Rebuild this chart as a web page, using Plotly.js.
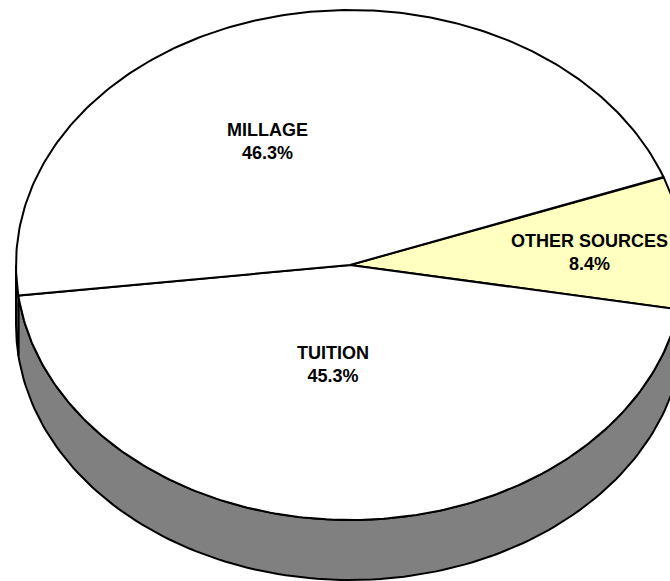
<!DOCTYPE html>
<html>
<head>
<meta charset="utf-8">
<script src="https://cdn.plot.ly/plotly-3.0.1.min.js"></script>
<style>html,body{margin:0;padding:0;background:#fff;}#chart{width:670px;height:581px;}</style>
</head>
<body>
<div id="chart"></div>
<script>
// ---- data ----
const labels = ['OTHER SOURCES', 'TUITION', 'MILLAGE'];
const values = [8.4, 45.3, 46.3];
const colors = ['#FFFFC0', '#FFFFFF', '#FFFFFF'];
const sideColors = ['#808060', '#808080', '#808080'];

// ---- layout geometry (pixel-like axis units) ----
const cx = 350, cy = 265, rx = 334, ry = 255, depth = 60;
const startDeg = -20.2; // screen angle, clockwise positive
const labelPos = [[589, 252], [333, 364], [267, 141]];

const total = values.reduce((a, b) => a + b, 0);
const traces = [];
const rad = d => d * Math.PI / 180;
function pt(tDeg, dy) { return [cx + rx * Math.cos(rad(tDeg)), cy + ry * Math.sin(rad(tDeg)) + (dy || 0)]; }

let cum = startDeg;
const slices = values.map((v, i) => {
  const a0 = cum, a1 = cum + v / total * 360;
  cum = a1;
  return {a0, a1, i};
});

// side walls (front half: angles in [0,180] mod 360)
slices.forEach(s => {
  for (const off of [0, 360, -360]) {
    const lo = Math.max(s.a0, 0 + off), hi = Math.min(s.a1, 180 + off);
    if (hi > lo) {
      const xs = [], ys = [];
      const n = 120;
      for (let k = 0; k <= n; k++) { const t = lo + (hi - lo) * k / n; const p = pt(t, 0); xs.push(p[0]); ys.push(p[1]); }
      for (let k = n; k >= 0; k--) { const t = lo + (hi - lo) * k / n; const p = pt(t, depth); xs.push(p[0]); ys.push(p[1]); }
      xs.push(xs[0]); ys.push(ys[0]);
      traces.push({type: 'scatter', mode: 'lines', x: xs, y: ys, fill: 'toself',
        fillcolor: sideColors[s.i], line: {color: '#000', width: 2}, hoverinfo: 'skip', showlegend: false});
    }
  }
});

// top wedges
slices.forEach(s => {
  const xs = [cx], ys = [cy];
  const n = 200;
  for (let k = 0; k <= n; k++) { const t = s.a0 + (s.a1 - s.a0) * k / n; const p = pt(t, 0); xs.push(p[0]); ys.push(p[1]); }
  xs.push(cx); ys.push(cy);
  traces.push({type: 'scatter', mode: 'lines', x: xs, y: ys, fill: 'toself',
    fillcolor: colors[s.i], line: {color: '#000', width: 2}, hoverinfo: 'skip', showlegend: false});
});

const annotations = labels.map((lab, i) => ({
  x: labelPos[i][0], y: labelPos[i][1], xref: 'x', yref: 'y', showarrow: false,
  text: '<b>' + lab + '</b><br><b>' + values[i].toFixed(1) + '%</b>',
  font: {family: 'Liberation Sans, Arial, sans-serif', size: 18, color: '#000'},
  xanchor: 'center', yanchor: 'middle', align: 'center'
}));

const layout = {
  width: 670, height: 581,
  margin: {l: 0, r: 0, t: 0, b: 0},
  paper_bgcolor: '#fff', plot_bgcolor: '#fff',
  xaxis: {range: [0, 670], visible: false, fixedrange: true},
  yaxis: {range: [581, 0], visible: false, fixedrange: true},
  showlegend: false,
  annotations: annotations
};
Plotly.newPlot('chart', traces, layout, {displayModeBar: false, staticPlot: true});
</script>
</body>
</html>
